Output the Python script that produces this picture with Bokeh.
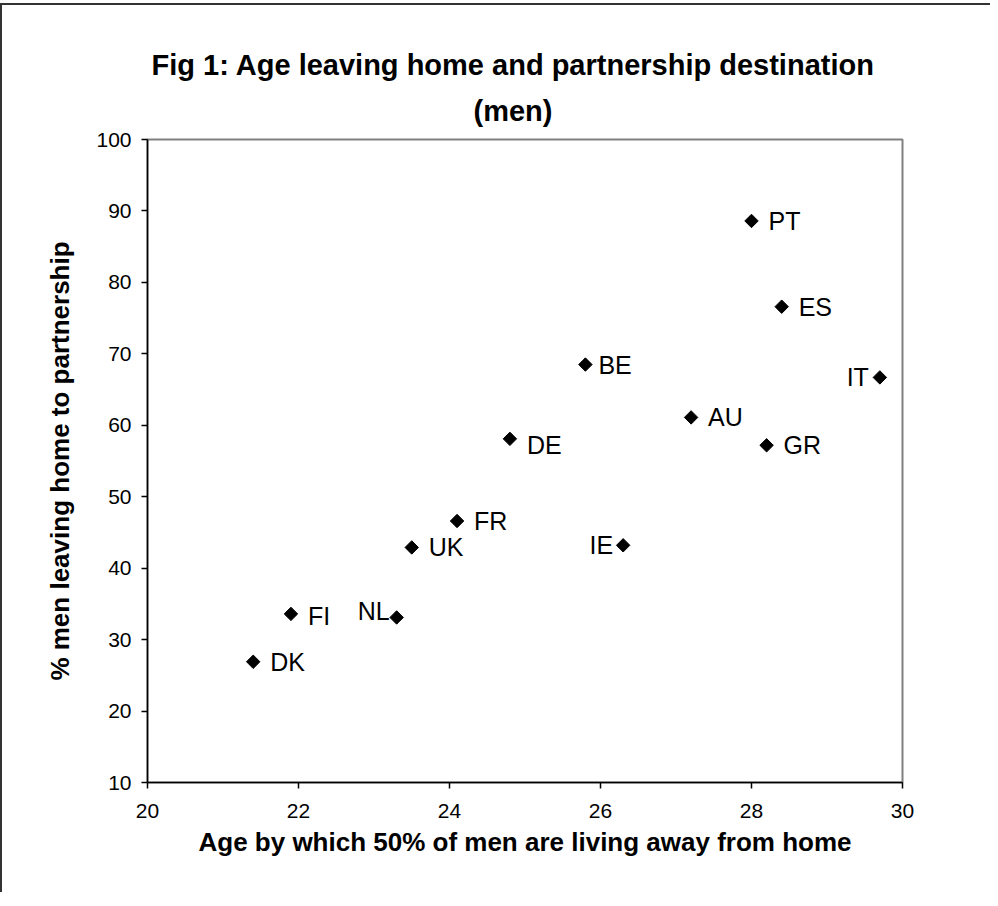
import math
from bokeh.plotting import figure
from bokeh.models import Range1d, FixedTicker, ColumnDataSource, Title
from bokeh.embed import file_html
from bokeh.resources import INLINE
from bokeh.core.properties import value

# ---- data ----
countries = ["DK", "FI", "NL", "UK", "FR", "DE", "BE", "IE", "AU", "GR", "PT", "ES", "IT"]
age_50pct = [21.4, 21.9, 23.3, 23.5, 24.1, 24.8, 25.8, 26.3, 27.2, 28.2, 28.0, 28.4, 29.7]
pct_partnership = [26.9, 33.6, 33.1, 42.9, 46.6, 58.1, 68.5, 43.2, 61.1, 57.2, 88.6, 76.6, 66.7]
x_ticks = [20, 22, 24, 26, 28, 30]
y_ticks = [10, 20, 30, 40, 50, 60, 70, 80, 90, 100]

title_line1 = "Fig 1: Age leaving home and partnership destination"
title_line2 = "(men)"
x_title = "Age by which 50% of men are living away from home"
y_title = "% men leaving home to partnership"

# ---- label placement (style) ----
left_labels = {"NL": (-7, -6), "IE": (-10, 0), "IT": (-11, 0)}
right_tweaks = {"BE": (13, 0), "DE": (17, 6), "FI": (17, 2)}
xo, yo, al = [], [], []
for c in countries:
    if c in left_labels:
        dx, dy = left_labels[c]
        al.append("right")
    else:
        dx, dy = right_tweaks.get(c, (17, 0))
        al.append("left")
    xo.append(dx)
    yo.append(dy)

src = ColumnDataSource(dict(x=age_50pct, y=pct_partnership, lab=countries,
                            xo=xo, yo=yo, al=al))

FONT = "Liberation Sans"

p = figure(frame_width=755, frame_height=643,
           x_range=Range1d(20, 30), y_range=Range1d(10, 100),
           output_backend="svg", toolbar_location=None,
           min_border_left=145, min_border_right=88,
           min_border_top=134, min_border_bottom=110,
           title=title_line1)
p.styles = {"border-top": "2px solid #333333", "border-left": "2px solid #333333",
            "margin-top": "3px"}

p.title.align = "left"
p.title.offset = 4
p.title.text_font = FONT
p.title.text_font_size = "29px"
p.title.text_font_style = "bold"
p.title.text_color = "black"
p.title.standoff = 0
p.add_layout(Title(text=title_line2, align="left", offset=326, text_font=FONT,
                   text_font_size="29px", text_font_style="bold",
                   text_color="black", standoff=25), "above")

p.background_fill_color = "white"
p.border_fill_color = "white"
p.outline_line_color = "#808080"
p.outline_line_width = 2
p.grid.visible = False

for ax in (p.xaxis, p.yaxis):
    ax.axis_line_color = "black"
    ax.axis_line_width = 1.5
    ax.major_tick_line_color = "black"
    ax.major_tick_line_width = 1.5
    ax.major_tick_out = 6
    ax.major_tick_in = 0
    ax.minor_tick_line_color = None
    ax.major_label_text_font = FONT
    ax.major_label_text_font_size = "21px"
    ax.major_label_text_color = "black"
    ax.axis_label_text_font = FONT
    ax.axis_label_text_font_size = "26px"
    ax.axis_label_text_font_style = "bold"
    ax.axis_label_text_color = "black"

p.xaxis.ticker = FixedTicker(ticks=x_ticks)
p.yaxis.ticker = FixedTicker(ticks=y_ticks)
p.xaxis.axis_label = x_title
p.yaxis.axis_label = y_title
p.xaxis.major_label_standoff = 15
p.yaxis.major_label_standoff = 10
p.xaxis.axis_label_standoff = 6
p.yaxis.axis_label_standoff = 18

p.scatter(x="x", y="y", source=src, marker="square", angle=math.pi / 4,
          size=9.5, fill_color="black", line_color="black")
p.text(x="x", y="y", text="lab", source=src, x_offset="xo", y_offset="yo",
       text_align="al", text_baseline="middle", text_font=value(FONT),
       text_font_size="25px", text_color="black")

open("out.html", "w").write(file_html(p, INLINE))
